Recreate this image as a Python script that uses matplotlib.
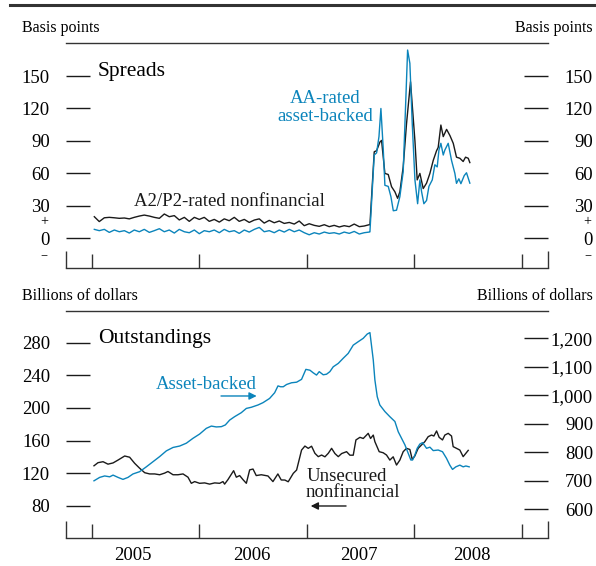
import matplotlib
matplotlib.use('Agg')
import matplotlib.pyplot as plt
from matplotlib.transforms import blended_transform_factory
from matplotlib.lines import Line2D

plt.rcParams['font.family'] = ['Liberation Serif', 'DejaVu Serif']

BLUE = '#0b84bb'
BLACK = '#1a1a1a'
GRAY = '#333333'

# ---------------- data ----------------
# Spreads (basis points), shared dates for the calm period
flat_years = [2005.026, 2005.072, 2005.119, 2005.165, 2005.212, 2005.258, 2005.305, 2005.351,
              2005.397, 2005.444, 2005.490, 2005.537, 2005.583, 2005.630, 2005.676, 2005.722,
              2005.769, 2005.815, 2005.862, 2005.908, 2005.955, 2006.001, 2006.047, 2006.094,
              2006.140, 2006.187, 2006.233, 2006.279, 2006.326, 2006.372, 2006.419, 2006.465,
              2006.512, 2006.558, 2006.604, 2006.651, 2006.697, 2006.744, 2006.790, 2006.837,
              2006.883, 2006.929, 2006.976, 2007.022, 2007.069, 2007.115, 2007.162, 2007.208,
              2007.254, 2007.301, 2007.347, 2007.394, 2007.440, 2007.487, 2007.533, 2007.579]
a2p2_flat = [20.0, 15.5, 19.0, 19.4, 19.0, 18.5, 18.8, 18.0, 19.4, 20.6, 21.5, 20.6, 19.4, 18.5,
             22.5, 20.0, 21.0, 17.0, 19.4, 15.7, 19.4, 17.5, 19.4, 15.7, 17.5, 15.0, 18.0, 16.3,
             19.4, 15.7, 17.5, 14.7, 16.9, 18.0, 14.1, 16.6, 14.4, 16.0, 13.8, 14.7, 13.2, 16.0,
             11.7, 13.5, 12.0, 11.1, 12.6, 10.8, 12.0, 10.5, 11.7, 10.8, 13.2, 10.8, 11.4, 12.6]
aa_abcp_flat = [8.3, 7.1, 8.3, 5.5, 7.7, 6.1, 7.1, 4.9, 7.7, 6.1, 8.3, 5.5, 7.1, 8.9,
                6.1, 7.7, 4.9, 8.3, 6.1, 5.2, 7.7, 4.3, 7.1, 6.1, 7.7, 5.2, 8.3, 6.1,
                7.1, 4.6, 7.7, 5.8, 8.3, 10.1, 6.1, 7.1, 5.2, 7.7, 5.8, 8.3, 6.1, 7.7,
                5.2, 3.3, 5.2, 4.0, 5.8, 4.6, 5.2, 4.0, 5.8, 4.6, 6.4, 4.0, 5.2, 5.8]

a2p2_turm_years = [2007.586, 2007.626, 2007.648, 2007.679, 2007.694, 2007.725, 2007.756, 2007.787,
                   2007.818, 2007.843, 2007.864, 2007.895, 2007.926, 2007.963, 2008.004, 2008.025,
                   2008.050, 2008.081, 2008.112, 2008.143, 2008.174, 2008.205, 2008.220, 2008.245,
                   2008.267, 2008.298, 2008.329, 2008.360, 2008.390, 2008.421, 2008.452, 2008.474,
                   2008.499, 2008.514]
a2p2_turm = [12.5, 80, 81, 89, 90.5, 60, 59, 47.7, 43, 37, 43, 66, 106, 144.7, 90, 54,
             60, 46, 51, 60, 72, 81, 84, 104.7, 94, 100.7, 95, 87.8, 75, 74, 71, 75, 74, 70]

aa_turm_years = [2007.586, 2007.626, 2007.648, 2007.670, 2007.688, 2007.710, 2007.725, 2007.756,
                 2007.781, 2007.803, 2007.833, 2007.864, 2007.895, 2007.936, 2007.957, 2007.979,
                 2008.004, 2008.029, 2008.050, 2008.066, 2008.087, 2008.112, 2008.134, 2008.165,
                 2008.189, 2008.211, 2008.227, 2008.245, 2008.267, 2008.282, 2008.313, 2008.344,
                 2008.375, 2008.390, 2008.412, 2008.431, 2008.462, 2008.483, 2008.514]
aa_turm = [6, 77, 79, 94, 120, 82, 49, 48, 38.5, 25.5, 26, 38.5, 61.6, 174, 161.7, 106,
           54, 32, 54, 43, 32, 35, 48, 54, 68, 66, 81.6, 87.8, 77, 81.6, 87.8, 72,
           60, 50.8, 55, 50.5, 58, 60.6, 51]

# Outstandings (billions of dollars)
unsec_years = [2005.023, 2005.060, 2005.107, 2005.153, 2005.200, 2005.246, 2005.308, 2005.354,
               2005.401, 2005.447, 2005.494, 2005.540, 2005.587, 2005.633, 2005.679, 2005.710,
               2005.757, 2005.803, 2005.850, 2005.896, 2005.927, 2005.958, 2006.004, 2006.051,
               2006.097, 2006.144, 2006.190, 2006.221, 2006.236, 2006.267, 2006.320, 2006.345,
               2006.376, 2006.407, 2006.438, 2006.469, 2006.500, 2006.530, 2006.577, 2006.639,
               2006.685, 2006.731, 2006.762, 2006.796, 2006.827, 2006.874, 2006.905, 2006.951,
               2006.982, 2007.013, 2007.044, 2007.075, 2007.106, 2007.137, 2007.168, 2007.199,
               2007.230, 2007.261, 2007.292, 2007.323, 2007.369, 2007.400, 2007.431, 2007.456,
               2007.493, 2007.524, 2007.555, 2007.570, 2007.592, 2007.617, 2007.632, 2007.672,
               2007.709, 2007.740, 2007.771, 2007.802, 2007.833, 2007.864, 2007.895, 2007.926,
               2007.957, 2007.979, 2008.003, 2008.034, 2008.065, 2008.096, 2008.127, 2008.158,
               2008.180, 2008.205, 2008.229, 2008.260, 2008.282, 2008.313, 2008.344, 2008.359,
               2008.390, 2008.421, 2008.452, 2008.477, 2008.499]
unsec_bn = [129, 132.8, 134, 131, 132.5, 136, 141, 139.5, 132, 126, 120.5, 119, 119, 118, 120, 122,
            118, 118, 119, 115, 107.5, 109.6, 107.5, 108, 106.5, 108, 107.5, 109.6, 106.5, 112, 123, 115,
            117, 112, 107.5, 124, 125, 117, 118, 116.5, 109.6, 119, 111.6, 111.5, 109.4, 119.7, 123.8, 148.3,
            153.2, 150.4, 153, 144.3, 140.2, 142.2, 140, 144.3, 150.4, 144, 140.2, 144, 146.3, 142, 142, 160.7,
            163.9, 162.5, 166.7, 168.8, 162.5, 166.7, 158.6, 146.3, 145, 142.2, 136, 140, 129.9, 136, 146.3, 150.4,
            149, 136.8, 141, 150.4, 154.5, 158.6, 164.7, 166.7, 165.5, 171.7, 163.9, 160.7, 166.7, 168.8, 165.5, 152.5,
            150.4, 148.3, 140.2, 144.3, 147.9]

abs_years = [2005.023, 2005.076, 2005.122, 2005.169, 2005.200, 2005.246, 2005.292, 2005.339,
             2005.385, 2005.447, 2005.509, 2005.571, 2005.633, 2005.695, 2005.757, 2005.819,
             2005.881, 2005.942, 2006.004, 2006.066, 2006.113, 2006.159, 2006.206, 2006.243,
             2006.283, 2006.329, 2006.391, 2006.438, 2006.484, 2006.546, 2006.592, 2006.654,
             2006.701, 2006.732, 2006.756, 2006.781, 2006.812, 2006.858, 2006.905, 2006.951,
             2006.991, 2007.029, 2007.059, 2007.090, 2007.115, 2007.152, 2007.183, 2007.214,
             2007.245, 2007.292, 2007.338, 2007.384, 2007.431, 2007.477, 2007.524, 2007.561,
             2007.586, 2007.617, 2007.632, 2007.654, 2007.678, 2007.725, 2007.771, 2007.818,
             2007.849, 2007.880, 2007.911, 2007.942, 2007.966, 2007.982, 2008.003, 2008.025,
             2008.050, 2008.075, 2008.112, 2008.143, 2008.174, 2008.220, 2008.260, 2008.297,
             2008.328, 2008.353, 2008.384, 2008.421, 2008.452, 2008.477, 2008.508]
abs_bn = [700, 712, 717, 714, 720, 712, 705, 712, 724, 732, 749, 767, 785, 805, 817, 822,
          832, 849, 864, 884, 892, 889, 890, 896, 913, 925, 939, 954, 958, 966, 974, 989,
          1009, 1033, 1030, 1030, 1038, 1044, 1046, 1056, 1091, 1088, 1079, 1071, 1083, 1072, 1074, 1083,
          1100, 1112, 1130, 1147, 1176, 1188, 1200, 1215, 1220, 1124, 1054, 995, 966, 943, 925, 908,
          872, 849, 826, 796, 773, 773, 790, 814, 829, 834, 814, 818, 806, 808, 802, 779,
          755, 740, 749, 755, 749, 752, 749]

year_ticks = [2005, 2006, 2007, 2008, 2009]
x_limits = [2004.763, 2009.240]
year_labels = ['2005', '2006', '2007', '2008']
year_label_x = [2005.38, 2006.49, 2007.48, 2008.53]
spread_ticks = [0, 30, 60, 90, 120, 150]
unsec_ticks = [80, 120, 160, 200, 240, 280]
abs_ticks = [600, 700, 800, 900, 1000, 1100, 1200]
abs_tick_labels = ['600', '700', '800', '900', '1,000', '1,100', '1,200']

# ---------------- figure ----------------
W, H = 596, 566
fig = plt.figure(figsize=(W / 100, H / 100), dpi=100)

def px_axes(l, t, r, b):
    return fig.add_axes([l / W, 1 - b / H, (r - l) / W, (b - t) / H])

ax1 = px_axes(66, 43, 548, 268)
ax2 = px_axes(66, 311, 548, 538)

FS = 13.5
PT = 0.72  # points per pixel


def style(ax):
    for s in ['left', 'right']:
        ax.spines[s].set_visible(False)
    for s in ['top', 'bottom']:
        ax.spines[s].set_color(GRAY)
        ax.spines[s].set_linewidth(1.0)
    ax.set_xlim(*x_limits)
    ax.set_xticks(year_ticks)
    ax.set_xticks(x_limits, minor=True)
    ax.tick_params(axis='x', which='major', direction='in', length=14 * PT, width=1.0,
                   color=GRAY, labelbottom=False, top=False)
    ax.tick_params(axis='x', which='minor', direction='in', length=17 * PT, width=1.0,
                   color=GRAY, labelbottom=False, top=False)
    ax.tick_params(axis='y', which='both', direction='in', length=24 * PT, width=1.0,
                   color=BLACK, pad=16 * PT, labelsize=FS, left=True, right=False)
    ax.patch.set_visible(False)


def style_twin(tw):
    for s in tw.spines.values():
        s.set_visible(False)
    tw.tick_params(axis='y', which='both', direction='in', length=24 * PT, width=1.0,
                   color=BLACK, pad=45 * PT, labelsize=FS, right=True, left=False)


style(ax1)
style(ax2)

# ---- top panel ----
ylim1 = (-27.4, 180.5)
ax1.set_ylim(*ylim1)
ax1.set_yticks(spread_ticks)
ax1.plot(flat_years + a2p2_turm_years, a2p2_flat + a2p2_turm, color=BLACK, lw=1.0)
ax1.plot(flat_years + aa_turm_years, aa_abcp_flat + aa_turm, color=BLUE, lw=1.0)
tw1 = ax1.twinx()
style_twin(tw1)
tw1.set_ylim(*ylim1)
tw1.set_yticks(spread_ticks)
for t in tw1.get_yticklabels():
    t.set_horizontalalignment('right')

bt1 = blended_transform_factory(ax1.transAxes, ax1.transData)
for xf in [-0.046, 1.0824]:
    ax1.text(xf, 15.6, '+', transform=bt1, ha='center', va='center', fontsize=10)
    ax1.text(xf, -17.0, '\u2212', transform=bt1, ha='center', va='center', fontsize=9)

ax1.text(0.0658, 0.8533, 'Spreads', transform=ax1.transAxes, fontsize=15.5, va='baseline', ha='left')
ax1.text(0.5373, 0.7333, 'AA-rated', transform=ax1.transAxes, fontsize=FS, va='baseline',
         ha='center', color=BLUE)
ax1.text(0.5373, 0.6530, 'asset-backed', transform=ax1.transAxes, fontsize=FS, va='baseline',
         ha='center', color=BLUE)
ax1.text(0.3396, 0.2756, 'A2/P2-rated nonfinancial', transform=ax1.transAxes, fontsize=FS,
         va='baseline', ha='center', color=BLACK)

# ---- bottom panel ----
ax2.set_ylim(40.4, 318.9)
ax2.set_yticks(unsec_ticks)
ax2.plot(unsec_years, unsec_bn, color=BLACK, lw=1.0)
tw2 = ax2.twinx()
style_twin(tw2)
tw2.set_ylim(499.3, 1295.8)
tw2.set_yticks(abs_ticks)
tw2.set_yticklabels(abs_tick_labels)
for t in tw2.get_yticklabels():
    t.set_horizontalalignment('right')
tw2.plot(abs_years, abs_bn, color=BLUE, lw=1.0)

ax2.text(0.0658, 0.859, 'Outstandings', transform=ax2.transAxes, fontsize=15.5, va='baseline', ha='left')
ax2.text(0.2905, 0.656, 'Asset-backed', transform=ax2.transAxes, fontsize=FS, va='baseline',
         ha='center', color=BLUE)
ax2.annotate('', xy=(0.3956, 0.6256), xytext=(0.3216, 0.6256), xycoords='axes fraction',
             arrowprops=dict(arrowstyle='-|>', color=BLUE, lw=1.0, mutation_scale=11,
                             shrinkA=0, shrinkB=0))
ax2.text(0.499, 0.251, 'Unsecured', transform=ax2.transAxes, fontsize=FS, va='baseline',
         ha='left', color=BLACK)
ax2.text(0.497, 0.182, 'nonfinancial', transform=ax2.transAxes, fontsize=FS, va='baseline',
         ha='left', color=BLACK)
ax2.annotate('', xy=(0.5077, 0.141), xytext=(0.581, 0.141), xycoords='axes fraction',
             arrowprops=dict(arrowstyle='-|>', color=BLACK, lw=1.0, mutation_scale=11,
                             shrinkA=0, shrinkB=0))

bt2 = blended_transform_factory(ax2.transData, ax2.transAxes)
for lab, xv in zip(year_labels, year_label_x):
    ax2.text(xv, -0.097, lab, transform=bt2, ha='center', va='baseline', fontsize=FS)

# ---- unit labels and top rule ----
fs_unit = 11.5
fig.text(22 / W, 1 - 32.5 / H, 'Basis points', fontsize=fs_unit, ha='left', va='baseline')
fig.text(593 / W, 1 - 32.5 / H, 'Basis points', fontsize=fs_unit, ha='right', va='baseline')
fig.text(22 / W, 1 - 300 / H, 'Billions of dollars', fontsize=fs_unit, ha='left', va='baseline')
fig.text(593 / W, 1 - 300 / H, 'Billions of dollars', fontsize=fs_unit, ha='right', va='baseline')
fig.add_artist(Line2D([10 / W, 1.0], [1 - 5 / H, 1 - 5 / H], transform=fig.transFigure,
                      color=GRAY, lw=2.2))

fig.savefig('out.png', dpi=100)
